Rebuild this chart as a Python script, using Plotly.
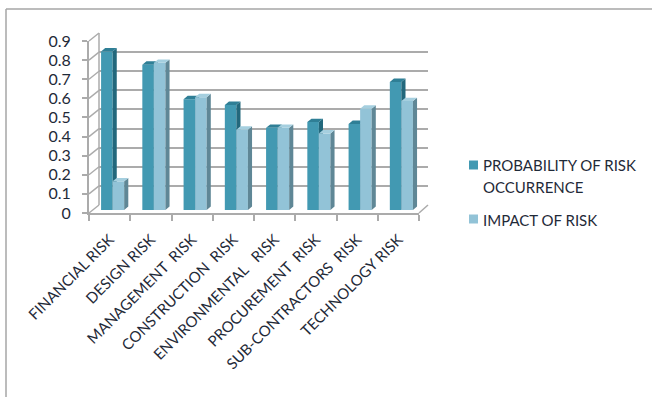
import plotly.graph_objects as go

W, H = 652, 397

categories = ["FINANCIAL RISK", "DESIGN RISK", "MANAGEMENT  RISK", "CONSTRUCTION  RISK",
              "ENVIRONMENTAL   RISK", "PROCUREMENT  RISK", "SUB-CONTRACTORS  RISK", "TECHNOLOGY RISK"]
probability = [0.83, 0.76, 0.58, 0.55, 0.43, 0.46, 0.45, 0.67]
impact = [0.15, 0.77, 0.59, 0.42, 0.43, 0.40, 0.53, 0.57]
y_ticks = [0, 0.1, 0.2, 0.3, 0.4, 0.5, 0.6, 0.7, 0.8, 0.9]
y_labels = ["0", "0.1", "0.2", "0.3", "0.4", "0.5", "0.6", "0.7", "0.8", "0.9"]
name_probability = ["PROBABILITY OF RISK", "OCCURRENCE"]
name_impact = ["IMPACT OF RISK"]

FONT = "Lato"
INK = "#1f2a38"
GRID = "#ababab"
DARK = {"front": "#4299b2", "side": "#23687c", "top": "#2f7f96"}
LIGHT = {"front": "#92c3d7", "side": "#5f8796", "top": "#a5cfdf"}

BAR_W = 0.28
DX, DY = 0.1, 0.018
xs = list(range(len(categories)))


def px_x(a, b):
    return [a / W, b / W]


def px_y(top, bottom):
    return [1 - bottom / H, 1 - top / H]


def faces(values, left):
    """Side and top faces of the extruded bars, one fill trace per face kind."""
    sx, sy, tx, ty = [], [], [], []
    for i, v in zip(xs, values):
        x0 = i + left
        x1 = x0 + BAR_W
        sx += [x1, x1 + DX, x1 + DX, x1, x1, None]
        sy += [0, DY, v + DY, v, 0, None]
        tx += [x0, x0 + DX, x1 + DX, x1, x0, None]
        ty += [v, v + DY, v + DY, v, v, None]
    return (sx, sy), (tx, ty)


def face_trace(xy, color, axes):
    return go.Scatter(x=xy[0], y=xy[1], mode="lines", fill="toself", fillcolor=color,
                      line=dict(width=0), hoverinfo="skip", showlegend=False,
                      cliponaxis=False, xaxis=axes[0], yaxis=axes[1])


fig = go.Figure()

# Series one sits on its own axis pair, series two on a later one so it paints on top.
side, top = faces(probability, -BAR_W)
fig.add_trace(face_trace(side, DARK["side"], ("x3", "y3")))
fig.add_trace(face_trace(top, DARK["top"], ("x3", "y3")))
fig.add_trace(go.Bar(x=xs, y=probability, width=BAR_W, offset=-BAR_W, name=" ".join(name_probability),
                     marker=dict(color=DARK["front"], line=dict(width=0)), xaxis="x3", yaxis="y3"))

side, top = faces(impact, 0)
fig.add_trace(face_trace(side, LIGHT["side"], ("x4", "y4")))
fig.add_trace(face_trace(top, LIGHT["top"], ("x4", "y4")))
fig.add_trace(go.Bar(x=xs, y=impact, width=BAR_W, offset=0, name=" ".join(name_impact),
                     marker=dict(color=LIGHT["front"], line=dict(width=0)), xaxis="x4", yaxis="y4"))

# Empty traces keep the front and back planes alive.
fig.add_trace(go.Scatter(x=[None], y=[None], xaxis="x", yaxis="y", showlegend=False, hoverinfo="skip"))
fig.add_trace(go.Scatter(x=[None], y=[None], xaxis="x2", yaxis="y2", showlegend=False, hoverinfo="skip"))

x_range = [-0.5, len(categories) - 0.5]
y_range = [0, 0.9]
hidden = dict(showgrid=False, zeroline=False, showticklabels=False, ticks="", showline=False,
              automargin=False)

FRONT_L, FRONT_R, FRONT_T, FRONT_B = 89, 419, 41, 213
BACK_L, BACK_R, BACK_T, BACK_B = 99, 428, 33, 205
BAR_L, BAR_R, BAR_T, BAR_B = 92, 422, 38, 210

layout = dict(
    width=W, height=H, margin=dict(l=0, r=0, t=0, b=0),
    paper_bgcolor="white", plot_bgcolor="rgba(0,0,0,0)", autosize=False,
    font=dict(family=FONT, color=INK),
    showlegend=False,
    # Front plane: axis lines, ticks and labels.
    xaxis=dict(domain=px_x(FRONT_L, FRONT_R), range=x_range, anchor="y", showgrid=False,
               zeroline=False, showline=True, linecolor=GRID, linewidth=2, automargin=False,
               tickmode="array", tickvals=xs, ticktext=categories, tickangle=-45, ticks="",
               ticklabeloverflow="allow", ticklabelstandoff=10,
               tickfont=dict(family=FONT, size=15, color=INK),
               minor=dict(tickmode="array", tickvals=[i - 0.5 for i in xs] + [x_range[1]],
                          ticks="outside", ticklen=6, tickcolor=GRID, tickwidth=1.5, showgrid=False)),
    yaxis=dict(domain=px_y(FRONT_T, FRONT_B), range=y_range, anchor="x", showgrid=False,
               zeroline=False, showline=True, linecolor=GRID, linewidth=2, automargin=False,
               tickmode="array", tickvals=y_ticks, ticktext=y_labels,
               ticks="outside", ticklen=5, tickcolor=GRID, tickwidth=1.5,
               ticklabelstandoff=8, ticklabeloverflow="allow",
               tickfont=dict(family=FONT, size=16, color=INK)),
    # Back wall: gridlines.
    xaxis2=dict(domain=px_x(BACK_L, BACK_R), range=x_range, anchor="y2", **hidden),
    yaxis2=dict(domain=px_y(BACK_T, BACK_B), range=y_range, anchor="x2",
                showgrid=True, gridcolor=GRID, gridwidth=2, tickmode="array", tickvals=y_ticks,
                zeroline=False, showticklabels=False, ticks="", showline=False, automargin=False),
    # Mid-depth planes the columns stand on.
    xaxis3=dict(domain=px_x(BAR_L, BAR_R), range=x_range, anchor="y3", **hidden),
    yaxis3=dict(domain=px_y(BAR_T, BAR_B), range=y_range, anchor="x3", **hidden),
    xaxis4=dict(domain=px_x(BAR_L, BAR_R), range=x_range, anchor="y4", **hidden),
    yaxis4=dict(domain=px_y(BAR_T, BAR_B), range=y_range, anchor="x4", **hidden),
)
fig.update_layout(**layout)


def paper_line(x0, y0, x1, y1, color=GRID, width=1.5):
    fig.add_shape(type="line", xref="paper", yref="paper", layer="below",
                  x0=x0 / W, y0=1 - y0 / H, x1=x1 / W, y1=1 - y1 / H,
                  line=dict(color=color, width=width))


# Side wall and floor of the box.
step = (FRONT_B - FRONT_T) / (len(y_ticks) - 1)
for k in range(len(y_ticks)):
    y = FRONT_B - k * step
    paper_line(FRONT_L, y, BACK_L, y - (FRONT_B - BACK_B))
paper_line(FRONT_R, FRONT_B, BACK_R, BACK_B)
paper_line(BACK_L, BACK_T, BACK_L, BACK_B)

# Chart frame.
paper_line(6, 9, 652, 9, "#a6a6a6", 1.5)
paper_line(6, 9, 6, 397, "#a6a6a6", 1.5)


# Key on the right: swatch plus label lines.
def key_swatch(y_mid, color):
    fig.add_shape(type="rect", xref="paper", yref="paper", x0=469 / W, x1=478 / W,
                  y0=1 - (y_mid + 4.5) / H, y1=1 - (y_mid - 4.5) / H,
                  fillcolor=color, line=dict(width=0))


def key_text(y_mid, text):
    fig.add_annotation(xref="paper", yref="paper", x=482 / W, y=1 - y_mid / H, text=text,
                       showarrow=False, xanchor="left", yanchor="middle", xshift=-1,
                       font=dict(family=FONT, size=15, color=INK))


key_swatch(165, DARK["front"])
key_text(165, name_probability[0])
key_text(187, name_probability[1])
key_swatch(219, LIGHT["front"])
key_text(220, name_impact[0])

fig.write_html("out.html")
